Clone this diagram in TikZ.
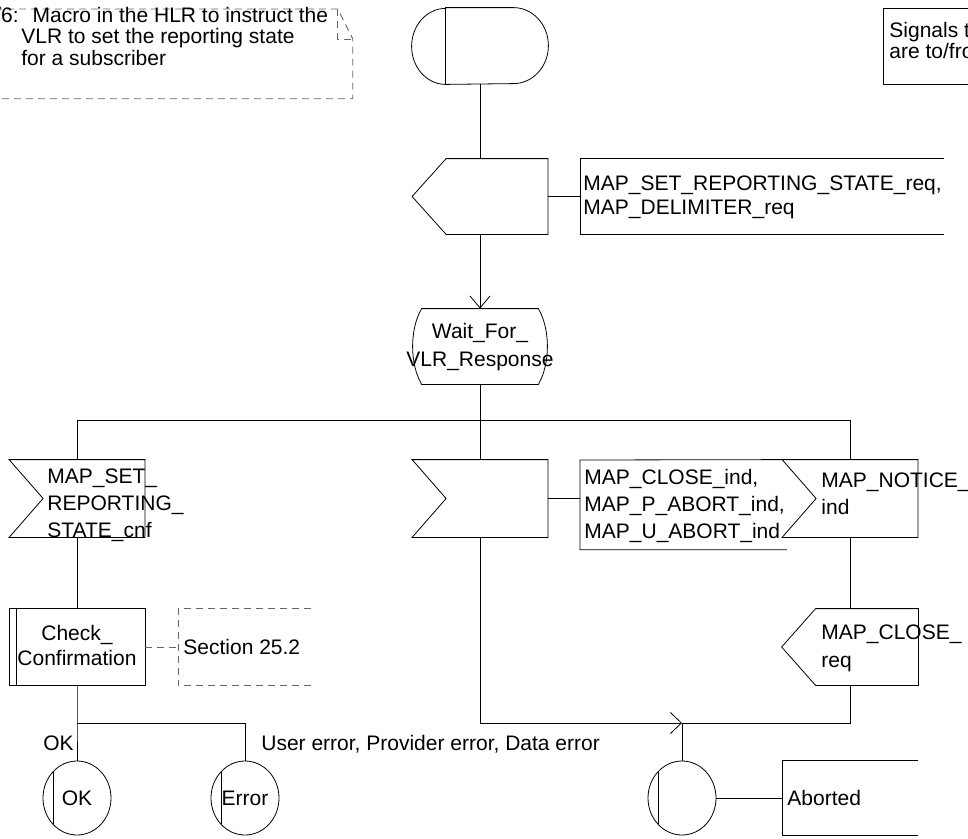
\documentclass[tikz,border=0pt]{standalone}
\usepackage{fontspec}
\setmainfont{Liberation Sans}
\usetikzlibrary{calc,arrows.meta,shapes.geometric}
\newcommand\sdlinput[1]{\draw (#1.north west) -- (#1.north east) -- (#1.south east) -- (#1.south west) -- ($(#1.west)+(34,0)$) -- cycle;}
\newcommand\sdloutput[1]{\draw ($(#1.north west)+(34,0)$) -- (#1.north east) -- (#1.south east) -- ($(#1.south west)+(34,0)$) -- (#1.west) -- cycle;}
\newcommand\sdlproc[1]{\draw (#1.north west) rectangle (#1.south east); \draw ($(#1.north west)+(7,0)$) -- ($(#1.south west)+(7,0)$);}
\newcommand\sdlchord[1]{\draw ($(#1.center)+(-24,-26)$) -- ($(#1.center)+(-24,26)$);}
\begin{document}
\begin{tikzpicture}[x=1pt,y=-1pt,line width=0.8pt,
  every node/.style={font=\fontsize{21}{25}\selectfont,inner sep=0pt},
  sym/.style={minimum width=135pt,minimum height=75pt,draw=none},
  txt/.style={anchor=base west},
  ctxt/.style={anchor=base},
  dsh/.style={draw=black!60,dash pattern=on 7pt off 5pt},
  conn/.style={shape=ellipse,draw,minimum width=68pt,minimum height=74pt},
  tipA/.style={-{Straight Barb[length=12pt,width=20pt]}},
  tipB/.style={-{Straight Barb[length=11pt,width=21pt]}}
]
\useasboundingbox (0,0) rectangle (968,838);
\begin{scope}
\clip (0,0) rectangle (968,838);

% comment
\node[sym,minimum width=357pt,minimum height=89pt,anchor=north west] (cmt) at (-5,9) {};
\draw[dsh] (cmt.north west) -- ($(cmt.north east)+(-15,0)$) -- ($(cmt.north east)+(0,30)$) -- (cmt.south east) -- (cmt.south west);
\draw[dsh] ($(cmt.north east)+(-15,0)$) -- ($(cmt.north east)+(-15,30)$) -- ($(cmt.north east)+(0,30)$);
\node[txt] (c1) at (-5,22) {/6:\hspace{14pt}Macro in the HLR to instruct the};
\node[txt] (c2) at (21,43.5) {VLR to set the reporting state};
\node[txt] (c3) at (21,65) {for a subscriber};

% signals note
\node[sym,minimum width=100pt,minimum height=75pt,anchor=west] (note) at (883,46.5) {};
\draw (note.north east) -- (note.north west) -- (note.south west) -- (note.south east);
\node[txt] (n1) at (889,37) {Signals to/from the right};
\node[txt] (n2) at (889,58) {are to/from the VLR};

% start
\node[sym,minimum width=136pt,minimum height=76pt] (start) at (480,46) {};
\draw ($(start.north west)+(34,0)$) -- ($(start.north east)+(-35,0)$) arc[start angle=90,end angle=-90,x radius=35pt,y radius=38pt] -- ($(start.south west)+(34,0)$) arc[start angle=270,end angle=90,x radius=34pt,y radius=38pt] -- cycle;
\draw ($(start.north west)+(34,0)$) -- ($(start.south west)+(34,0)$);

% send 1
\node[sym] (send1) at (480,196.5) {};
\sdloutput{send1}
\node[sym,minimum width=363pt,anchor=west] (sig1) at (580,196.5) {};
\draw (sig1.north east) -- (sig1.north west) -- (sig1.south west) -- (sig1.south east);
\node[txt] (t1a) at (583,190) {MAP\_SET\_REPORTING\_STATE\_req,};
\node[txt] (t1b) at (583,214) {MAP\_DELIMITER\_req};

% state
\node[sym,minimum width=136pt] (state) at (480,346.5) {};
\draw ($(state.north west)+(10,0)$) -- ($(state.north east)+(-10,0)$) .. controls ($(state.north east)+(2,21)$) and ($(state.south east)+(2,-21)$) .. ($(state.south east)+(-10,0)$) -- ($(state.south west)+(10,0)$) .. controls ($(state.south west)+(-2,-21)$) and ($(state.north west)+(-2,21)$) .. cycle;
\node[ctxt] (sw1) at (480,338) {Wait\_For\_};
\node[ctxt] (sw2) at (480,366) {VLR\_Response};

\draw (start.south) -- (send1.north);
\draw (send1.east) -- (sig1.west);
\draw[tipA] (send1.south) -- (state.north);

% branches
\coordinate (br) at (480,420);
\coordinate (bL) at (77,420);
\coordinate (bR) at (850,420);
\draw (state.south) -- (br);
\draw (bL) -- (bR);

\node[sym,minimum height=77pt] (in1) at (77,498.5) {};
\sdlinput{in1}
\node[sym,minimum height=77pt] (in2) at (480,498.5) {};
\sdlinput{in2}
\node[sym,minimum height=77pt] (in3) at (850,498.5) {};
\sdlinput{in3}
\draw (bL) -- (in1.north);
\draw (br) -- (in2.north);
\draw (bR) -- (in3.north);

\node[txt] (i1a) at (47,483) {MAP\_SET\_};
\node[txt] (i1b) at (47,510) {REPORTING\_};
\node[txt] (i1c) at (47,537) {STATE\_cnf};

\node[sym,minimum width=206pt,minimum height=89pt,anchor=north west] (sig2) at (580,460) {};
\draw (in3.north west) -- (sig2.north west) -- (sig2.south west) -- (sig2.south east);
\draw (in2.east) -- (in2.east -| sig2.west);
\node[txt] (s2a) at (584,484) {MAP\_CLOSE\_ind,};
\node[txt] (s2b) at (584,511) {MAP\_P\_ABORT\_ind,};
\node[txt] (s2c) at (584,538) {MAP\_U\_ABORT\_ind};

\node[txt] (i3a) at (821,487) {MAP\_NOTICE\_};
\node[txt] (i3b) at (821,514) {ind};

% procedure
\node[sym,minimum height=76pt] (proc) at (77,647) {};
\sdlproc{proc}
\node[ctxt] (p1) at (77,640) {Check\_};
\node[ctxt] (p2) at (77,665) {Confirmation};
\node[sym,minimum width=132pt,minimum height=76pt,anchor=west] (sec) at (178,647) {};
\draw[dsh] (sec.north east) -- (sec.north west) -- (sec.south west) -- (sec.south east);
\draw[dsh] (proc.east) -- (sec.west);
\node[txt] (sect) at (183,654) {Section 25.2};
\draw (in1.south) -- (proc.north);

% connectors
\node[conn] (okc) at (77,798) {OK};
\sdlchord{okc}
\node[conn] (errc) at (245,798) {Error};
\sdlchord{errc}
\coordinate (j1) at (77,723);
\draw (proc.south) -- (j1) -- (okc.north);
\draw (j1) -| (errc.north);
\node[txt] (okl) at (43,750) {OK};
\node[txt] (errl) at (261,750) {User error, Provider error, Data error};

% send 2
\node[sym,minimum width=136pt,minimum height=76pt] (send2) at (850,647) {};
\sdloutput{send2}
\node[txt] (s3a) at (821,639) {MAP\_CLOSE\_};
\node[txt] (s3b) at (821,667) {req};
\draw (in3.south) -- (send2.north);

% aborted
\node[conn] (abc) at (682,798) {};
\sdlchord{abc}
\coordinate (j3) at (682,723);
\draw[tipB] (in2.south) |- (j3);
\draw (send2.south) |- (j3);
\draw (j3) -- (abc.north);
\node[sym,minimum width=135pt,minimum height=74pt,anchor=west] (abt) at (782,798) {};
\draw (abt.north east) -- (abt.north west) -- (abt.south west) -- (abt.south east);
\draw (abc.east) -- (abt.west);
\node[txt] (abtt) at (787,805) {Aborted};
\end{scope}
\end{tikzpicture}
\end{document}
